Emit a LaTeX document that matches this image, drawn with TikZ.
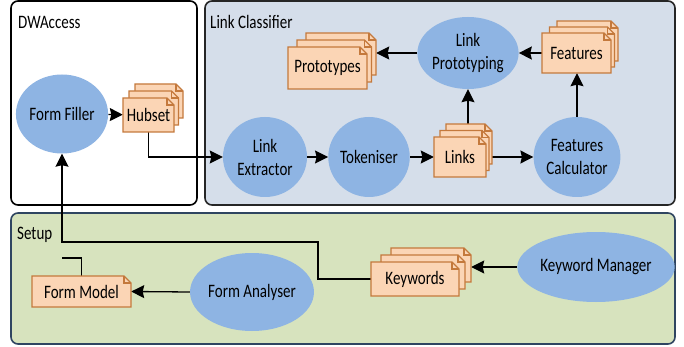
\documentclass[tikz,border=0pt]{standalone}
\usepackage{fontspec}
\setmainfont{Carlito}[FakeStretch=0.79]
\usetikzlibrary{shapes.geometric,arrows.meta,calc}

\definecolor{procblue}{HTML}{8EB4E3}
\definecolor{sheetfill}{HTML}{FBD5B5}
\definecolor{sheetedge}{RGB}{196,121,60}
\definecolor{classfill}{HTML}{D5DEEA}
\definecolor{setupfill}{HTML}{D7E3BE}
\definecolor{setupedge}{HTML}{2F4561}

\pgfdeclarelayer{boxes}
\pgfdeclarelayer{wires}
\pgfsetlayers{boxes,wires,main}

\tikzset{
  x=1pt, y=-1pt,
  every node/.style={font=\fontsize{19}{23}\selectfont, text=black},
  group/.style={rounded corners=7pt, line width=1.6pt},
  grouplabel/.style={anchor=west, inner sep=0pt},
  process/.style={ellipse, fill=procblue, draw=none, inner sep=0pt, align=center},
  sheetline/.style={draw=sheetedge, fill=sheetfill, line width=1.1pt, line join=miter},
  sheetbox/.style={rectangle, draw=none, inner sep=0pt, align=center},
  wire/.style={line width=1.3pt, draw=black},
  arr/.style={wire, -{Stealth[length=13pt, width=13pt, inset=1.5pt]}},
}

% size of the folded corner of a sheet
\newcommand\foldsz{7}

% one sheet with a dog-ear: left, top, right, bottom
\newcommand\sheet[4]{%
  \filldraw[sheetline] ({#1},{#2}) -- ({#3-\foldsz},{#2}) -- ({#3},{#2+\foldsz})
     -- ({#3},{#4}) -- ({#1},{#4}) -- cycle;
  \draw[sheetline, fill=none] ({#3-\foldsz},{#2}) -- ({#3-\foldsz},{#2+\foldsz}) -- ({#3},{#2+\foldsz});
}

% stack of three sheets: name, front left/top/right/bottom, left shift, right shift, rise, text
\newcommand\stack[9]{%
  \sheet{#2+2*#6}{#3-2*#8}{#4+2*#7}{#5-2*#8}
  \node[sheetbox, minimum width={(#4+2*#7-#2-2*#6)*1pt}, minimum height={(#5-#3)*1pt}]
     (#1-back) at ({(#2+#4)/2+#6+#7},{(#3+#5)/2-2*#8}) {};
  \sheet{#2+#6}{#3-#8}{#4+#7}{#5-#8}
  \sheet{#2}{#3}{#4}{#5}
  \node[sheetbox, minimum width={(#4-#2)*1pt}, minimum height={(#5-#3)*1pt}]
     (#1) at ({(#2+#4)/2},{(#3+#5)/2}) {#9};
}

\begin{document}
\begin{tikzpicture}
\useasboundingbox (0,0) rectangle (684,347);

% group frames
\begin{pgfonlayer}{boxes}
  \draw[group, fill=white, draw=black] (11,1) rectangle (197,205);
  \draw[group, fill=classfill, draw=black!85] (205,1) rectangle (675,205);
  \draw[group, fill=setupfill, draw=setupedge] (11,213) rectangle (675,344);
\end{pgfonlayer}

\node[grouplabel] (lblDW) at (18,22) {DWAccess};
\node[grouplabel] (lblLC) at (210,22) {Link Classifier};
\node[grouplabel] (lblSU) at (17,235) {Setup};

% processes
\node[process, minimum width=81pt, minimum height=79pt] (FF) at (62,114) {Form Filler};
\node[process, minimum width=84pt, minimum height=80pt] (LE) at (265,157) {Link\\Extractor};
\node[process, minimum width=78pt, minimum height=80pt] (TK) at (369,157) {Tokeniser};
\node[process, minimum width=77pt, minimum height=80pt] (FC) at (577,157) {Features\\Calculator};
\node[process, minimum width=90pt, minimum height=72pt] (LP) at (468,53) {Link\\Prototyping};
\node[process, minimum width=116pt, minimum height=78pt] (FA) at (252,292) {Form Analyser};
\node[process, minimum width=123pt, minimum height=70pt] (KM) at (596,267) {Keyword Manager};

% documents
\stack{Hubset}{123}{98}{174}{132}{6}{4.5}{7}{Hubset}
\stack{Links}{434}{137}{486}{177}{6}{3}{6.5}{Links}
\stack{Features}{542}{33}{611}{73}{7.5}{3.5}{6}{Features}
\stack{Proto}{288}{47}{367}{89}{9}{4.5}{7}{Prototypes}
\stack{Keywords}{371}{262}{459}{296}{10}{6}{7}{Keywords}
\sheet{32}{276}{131}{307}
\node[sheetbox, minimum width=99pt, minimum height=31pt] (FM) at (81.5,291.5) {Form Model};

% bends of the long feedback line
\coordinate (kwbend) at (318,242);
\coordinate (fmjoin) at (62,258);

% connectors
\begin{pgfonlayer}{wires}
  \draw[arr] (FF) -- (Hubset);
  \draw[arr] (Hubset.south) |- (LE.west);
  \draw[arr] (LE) -- (TK);
  \draw[arr] (TK) -- (Links);
  \draw[arr] (Links.east) -- (FC.west);
  \draw[arr] (Links.north -| LP.south) -- (LP.south);
  \draw[arr] (FC.north) -- (FC.north |- Features.south);
  \draw[arr] (Features.west) -- (LP.east);
  \draw[arr] (LP.west) -- (Proto-back.east |- LP.west);
  \draw[arr] (KM.west) -- (Keywords-back.east |- KM.west);
  \draw[arr] (FA.west) -- (FM.east);
  \draw[arr] (Keywords.west) -| (kwbend) -| (FF.south);
  \draw[wire] (FM.north) |- (fmjoin);
\end{pgfonlayer}
\end{tikzpicture}
\end{document}
